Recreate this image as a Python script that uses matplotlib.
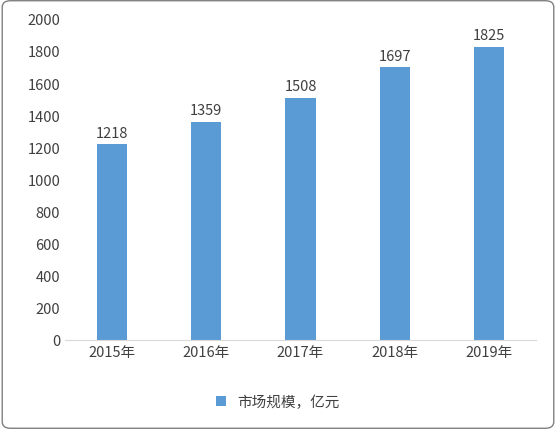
import matplotlib
matplotlib.use("Agg")
import matplotlib.pyplot as plt
from matplotlib.patches import FancyBboxPatch

plt.rcParams['font.family'] = ['Noto Sans CJK SC', 'DejaVu Sans']

years = ["2015年", "2016年", "2017年", "2018年", "2019年"]
values = [1218, 1359, 1508, 1697, 1825]
series_name = "市场规模，亿元"

fig = plt.figure(figsize=(5.56, 4.31), dpi=100)
fig.patches.append(FancyBboxPatch((0.004, 0.004), 0.992, 0.992, boxstyle="round,pad=0,rounding_size=0.015",
                                  transform=fig.transFigure, fill=False, edgecolor="#808080", linewidth=1))
ax = fig.add_axes([0.117, 0.209, 0.847, 0.745])
x = range(len(years))
bars = ax.bar(x, values, width=0.32, color="#5B9BD5", label=series_name)
for xi, v in zip(x, values):
    ax.text(xi, v + 30, str(v), ha="center", va="bottom", fontsize=10.5, color="#404040")
ax.set_ylim(0, 2000)
ax.set_yticks(range(0, 2001, 200))
ax.set_xlim(-0.5, len(years) - 0.5)
ax.set_xticks(list(x))
ax.set_xticklabels(years)
ax.tick_params(axis="both", length=0, labelsize=10.5, colors="#404040")
for s in ["top", "right", "left"]:
    ax.spines[s].set_visible(False)
ax.spines["bottom"].set_color("#d9d9d9")
fig.legend(handles=[bars], labels=[series_name], loc="center", bbox_to_anchor=(0.5, 0.065),
           frameon=False, fontsize=10.5, handlelength=0.7, handleheight=0.7, labelcolor="#404040")
fig.savefig("out.png", dpi=100)
